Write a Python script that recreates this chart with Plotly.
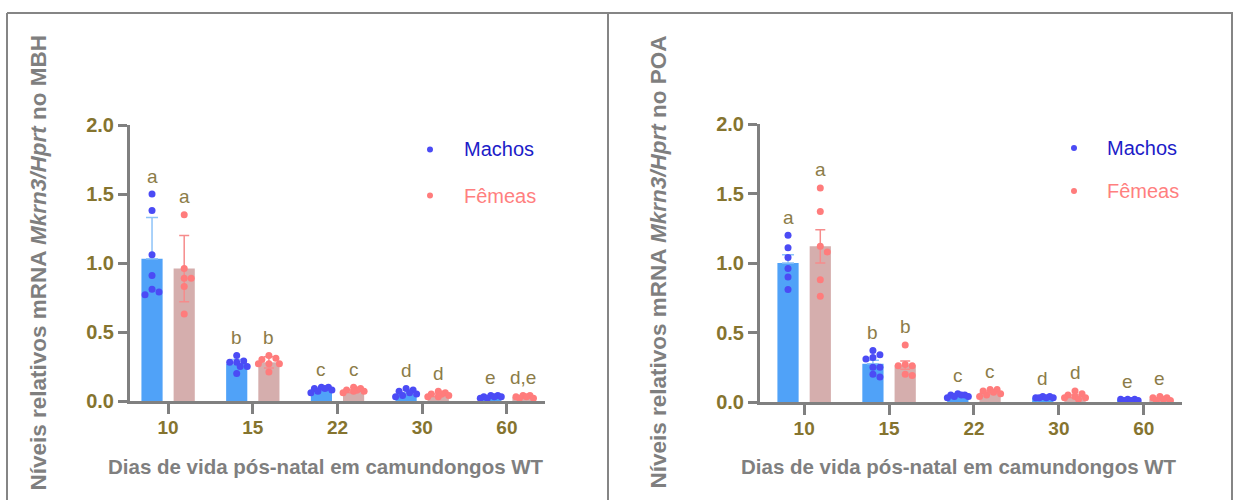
import numpy as np
import plotly.graph_objects as go

W, H = 1233, 500

# ---------------- data ----------------
days = ["10", "15", "22", "30", "60"]

# Mkrn3/Hprt in MBH
mbh_male_mean = [1.03, 0.27, 0.08, 0.05, 0.03]
mbh_male_err = [0.30, 0.03, 0.01, 0.01, 0.005]
mbh_female_mean = [0.96, 0.28, 0.07, 0.04, 0.03]
mbh_female_err = [0.24, 0.04, 0.01, 0.01, 0.005]
mbh_male_pts = [
    [1.50, 1.38, 1.06, 0.91, 0.81, 0.79, 0.77],
    [0.33, 0.29, 0.28, 0.28, 0.25, 0.25, 0.20],
    [0.10, 0.10, 0.09, 0.09, 0.08, 0.07, 0.06],
    [0.09, 0.08, 0.07, 0.06, 0.05, 0.04, 0.03],
    [0.04, 0.04, 0.03, 0.03, 0.03, 0.02, 0.02],
]
mbh_female_pts = [
    [1.35, 0.96, 0.89, 0.89, 0.83, 0.63],
    [0.33, 0.31, 0.30, 0.27, 0.27, 0.27, 0.21],
    [0.10, 0.09, 0.08, 0.08, 0.07, 0.07, 0.06],
    [0.07, 0.06, 0.05, 0.05, 0.04, 0.03, 0.03],
    [0.04, 0.04, 0.03, 0.03, 0.02, 0.02],
]
mbh_male_letters = ["a", "b", "c", "d", "e"]
mbh_female_letters = ["a", "b", "c", "d", "d,e"]

# Mkrn3/Hprt in POA
poa_male_mean = [1.00, 0.275, 0.045, 0.03, 0.015]
poa_male_err = [0.06, 0.025, 0.005, 0.005, 0.003]
poa_female_mean = [1.12, 0.265, 0.07, 0.04, 0.02]
poa_female_err = [0.12, 0.03, 0.01, 0.01, 0.005]
poa_male_pts = [
    [1.20, 1.11, 1.04, 0.96, 0.90, 0.81],
    [0.37, 0.34, 0.32, 0.31, 0.25, 0.25, 0.20, 0.18],
    [0.06, 0.05, 0.05, 0.05, 0.04, 0.04, 0.03],
    [0.04, 0.04, 0.03, 0.03, 0.03, 0.03],
    [0.02, 0.02, 0.02, 0.01, 0.01, 0.01],
]
poa_female_pts = [
    [1.54, 1.37, 1.12, 1.08, 0.88, 0.76],
    [0.41, 0.27, 0.26, 0.26, 0.20, 0.19],
    [0.09, 0.09, 0.08, 0.07, 0.06, 0.05, 0.04],
    [0.08, 0.06, 0.05, 0.04, 0.03, 0.03, 0.02],
    [0.04, 0.03, 0.03, 0.02, 0.01, 0.01],
]
poa_male_letters = ["a", "b", "c", "d", "e"]
poa_female_letters = ["a", "b", "c", "d", "e"]

# ---------------- styling ----------------
FONT = "Arial, 'Liberation Sans', sans-serif"
C_MALE_BAR = "#50A2F8"
C_FEMALE_BAR = "#D5AEAD"
C_MALE_PT = "#4B4BF5"
C_FEMALE_PT = "#FF7C7C"
C_MALE_ERR = "#8EC3F8"
C_FEMALE_ERR = "#F68C8C"
C_OLIVE = "#85742F"
C_LETTER = "#8C7C48"
C_AXIS = "#808080"
C_TITLE = "#7F7F7F"
C_BORDER = "#858585"

GROUP_OFF = 0.19
BAR_W = 0.25
Y_RANGE = [0, 2.0]
LETTER_PAD = 0.13

panels = [
    dict(xa="x", ya="y", xdom=(130, 545), ydom=(125, 401), xr=[-0.45, 4.45],
         mm=mbh_male_mean, me=mbh_male_err, fm=mbh_female_mean, fe=mbh_female_err,
         mp=mbh_male_pts, fp=mbh_female_pts, ml=mbh_male_letters, fl=mbh_female_letters,
         region="MBH", ytitle_x=38, xtitle_x=326,
         leg_dot_x=430, leg_txt_x=462, leg_y=(149.5, 195.5)),
    dict(xa="x2", ya="y2", xdom=(760, 1182), ydom=(124, 402), xr=[-0.52, 4.45],
         mm=poa_male_mean, me=poa_male_err, fm=poa_female_mean, fe=poa_female_err,
         mp=poa_male_pts, fp=poa_female_pts, ml=poa_male_letters, fl=poa_female_letters,
         region="POA", ytitle_x=658, xtitle_x=959,
         leg_dot_x=1074, leg_txt_x=1105, leg_y=(148, 191)),
]


def swarm(values, xpx, ypx, diam=7.0, halfwidth=11.0):
    """Horizontal offsets (data units) so dots spread across the bar."""
    step = diam * 0.5
    cand = [0.0]
    k = 1
    while k * step <= halfwidth:
        cand += [k * step, -k * step]
        k += 1
    placed, offs = [], []
    for v in values:
        yy = v * ypx
        best, bestd = 0.0, -1.0
        for c in cand:
            dmin = min([np.hypot(c - px, yy - py) for px, py in placed], default=1e9)
            if dmin >= diam * 0.95:
                best = c
                break
            if dmin > bestd:
                best, bestd = c, dmin
        placed.append((best, yy))
        offs.append(best / xpx)
    return offs


fig = go.Figure()
annotations = []
shapes = []
layout_axes = {}

idx = np.arange(len(days))

for n, p in enumerate(panels):
    xpx = (p["xdom"][1] - p["xdom"][0]) / (p["xr"][1] - p["xr"][0])
    ypx = (p["ydom"][1] - p["ydom"][0]) / (Y_RANGE[1] - Y_RANGE[0])

    fig.add_trace(go.Bar(
        x=idx - GROUP_OFF, y=p["mm"], width=BAR_W, marker=dict(color=C_MALE_BAR, line=dict(width=0)),
        error_y=dict(type="data", symmetric=False, array=p["me"], arrayminus=[0] * len(days),
                     color=C_MALE_ERR, thickness=1.5, width=6),
        xaxis=p["xa"], yaxis=p["ya"], showlegend=False, hoverinfo="skip"))
    fig.add_trace(go.Bar(
        x=idx + GROUP_OFF, y=p["fm"], width=BAR_W, marker=dict(color=C_FEMALE_BAR, line=dict(width=0)),
        error_y=dict(type="data", array=p["fe"], color=C_FEMALE_ERR, thickness=1.5, width=5),
        xaxis=p["xa"], yaxis=p["ya"], showlegend=False, hoverinfo="skip"))

    for pts, sign, col in ((p["mp"], -1, C_MALE_PT), (p["fp"], 1, C_FEMALE_PT)):
        xs, ys = [], []
        for i, vals in enumerate(pts):
            offs = swarm(vals, xpx, ypx)
            xs += [i + sign * GROUP_OFF + o for o in offs]
            ys += list(vals)
        fig.add_trace(go.Scatter(
            x=xs, y=ys, mode="markers", marker=dict(color=col, size=7, line=dict(width=0)),
            xaxis=p["xa"], yaxis=p["ya"], showlegend=False, hoverinfo="skip"))

    # significance letters above each group
    for i in range(len(days)):
        for letters, pts, mean, err, sign in ((p["ml"], p["mp"], p["mm"], p["me"], -1),
                                              (p["fl"], p["fp"], p["fm"], p["fe"], 1)):
            top = max(max(pts[i]), mean[i] + err[i])
            annotations.append(dict(
                x=i + sign * GROUP_OFF, y=top + LETTER_PAD, xref=p["xa"], yref=p["ya"],
                text=letters[i], showarrow=False, xanchor="center", yanchor="middle",
                font=dict(family=FONT, size=19, color=C_LETTER)))

    # axes
    sfx = "" if n == 0 else "2"
    layout_axes["xaxis" + sfx] = dict(
        domain=[p["xdom"][0] / W, p["xdom"][1] / W], range=p["xr"], anchor="y" + sfx,
        tickmode="array", tickvals=list(idx), ticktext=days, automargin=False,
        ticks="outside", ticklen=10, tickwidth=3, tickcolor=C_AXIS, ticklabelstandoff=-3,
        showline=True, linewidth=3, linecolor=C_AXIS, showgrid=False, zeroline=False,
        tickfont=dict(family=FONT, size=19, color=C_OLIVE, weight="bold"), fixedrange=True)
    layout_axes["yaxis" + sfx] = dict(
        domain=[1 - p["ydom"][1] / H, 1 - p["ydom"][0] / H], range=Y_RANGE, anchor="x" + sfx,
        tickmode="linear", tick0=0, dtick=0.5, tickformat=".1f", automargin=False,
        ticks="outside", ticklen=9, tickwidth=3, tickcolor=C_AXIS,
        showline=True, linewidth=3, linecolor=C_AXIS, showgrid=False, zeroline=False,
        tickfont=dict(family=FONT, size=20, color=C_OLIVE, weight="bold"), fixedrange=True)

    # axis titles
    annotations.append(dict(
        x=p["ytitle_x"] / W, y=1 - 262.5 / H, xref="paper", yref="paper",
        text="<b>Níveis relativos mRNA <i>Mkrn3/Hprt</i> no " + p["region"] + "</b>",
        textangle=-90, showarrow=False, xanchor="center", yanchor="middle",
        font=dict(family=FONT, size=22.5, color=C_TITLE)))
    annotations.append(dict(
        x=p["xtitle_x"] / W, y=1 - 466 / H, xref="paper", yref="paper",
        text="<b>Dias de vida pós-natal em camundongos WT</b>",
        showarrow=False, xanchor="center", yanchor="middle",
        font=dict(family=FONT, size=20.5, color=C_TITLE)))

    # legend
    for (label, tcol, dcol), ly in zip((("Machos", "#1C1CC8", C_MALE_PT),
                                        ("Fêmeas", "#FF7F7F", C_FEMALE_PT)), p["leg_y"]):
        shapes.append(dict(type="circle", xref="paper", yref="paper",
                           x0=(p["leg_dot_x"] - 3) / W, x1=(p["leg_dot_x"] + 3) / W,
                           y0=1 - (ly + 3) / H, y1=1 - (ly - 3) / H,
                           fillcolor=dcol, line=dict(width=0)))
        annotations.append(dict(
            x=p["leg_txt_x"] / W, y=1 - ly / H, xref="paper", yref="paper",
            text=label, showarrow=False, xanchor="left", yanchor="middle",
            font=dict(family=FONT, size=20, color=tcol)))

# frame lines around the two panels
for x0, y0, x1, y1 in ((7, 13, 1233, 13), (7, 13, 7, 500), (608, 13, 608, 500), (1232, 13, 1232, 500)):
    shapes.append(dict(type="line", xref="paper", yref="paper",
                       x0=x0 / W, x1=x1 / W, y0=1 - y0 / H, y1=1 - y1 / H,
                       line=dict(color=C_BORDER, width=2)))

fig.update_layout(
    width=W, height=H, autosize=False,
    margin=dict(l=0, r=0, t=0, b=0, pad=0, autoexpand=False),
    paper_bgcolor="white", plot_bgcolor="white",
    barmode="overlay", showlegend=False,
    annotations=annotations, shapes=shapes,
    **layout_axes,
)

fig.write_html("out.html")
